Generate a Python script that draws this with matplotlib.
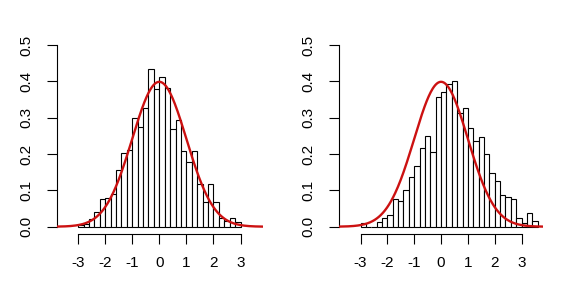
import matplotlib.pyplot as plt
import numpy as np

plt.rcParams['font.family'] = ['Arial', 'Liberation Sans', 'DejaVu Sans']

# histogram densities, bins of width 0.2 starting at -3.0
bin_width = 0.2
left_start = -3.0
left_density = [0.005, 0.008, 0.02, 0.04, 0.075, 0.08, 0.09, 0.155, 0.204, 0.21,
                0.30, 0.275, 0.327, 0.433, 0.38, 0.413, 0.383, 0.27, 0.295, 0.209,
                0.179, 0.209, 0.117, 0.067, 0.117, 0.067, 0.023, 0.017, 0.023, 0.013]
right_start = -3.0
right_density = [0.011, 0.0, 0.0, 0.013, 0.023, 0.031, 0.075, 0.072, 0.1, 0.137,
                 0.166, 0.216, 0.251, 0.205, 0.358, 0.371, 0.394, 0.4, 0.314, 0.328,
                 0.271, 0.235, 0.246, 0.201, 0.147, 0.125, 0.087, 0.081, 0.075, 0.023,
                 0.011, 0.038, 0.017]

x_ticks = [-3, -2, -1, 0, 1, 2, 3]
y_ticks = [0.0, 0.1, 0.2, 0.3, 0.4, 0.5]

fig = plt.figure(figsize=(5.63, 2.91), dpi=100)


def panel(rect, start, dens, xlim):
    ax = fig.add_axes(rect)
    edges = start + bin_width * np.arange(len(dens))
    ax.bar(edges, dens, width=bin_width, align='edge', facecolor='white',
           edgecolor='black', linewidth=0.8, zorder=2)
    # courbe de la loi normale standard (dnorm)
    xs = np.linspace(xlim[0], xlim[1], 300)
    ax.plot(xs, np.exp(-xs ** 2 / 2) / np.sqrt(2 * np.pi), color='#CC1111', lw=1.7, zorder=3)
    ax.set_xlim(xlim)
    ax.set_ylim(-0.02, 0.52)
    for s in ['top', 'right']:
        ax.spines[s].set_visible(False)
    ax.spines['left'].set_bounds(0, 0.5)
    ax.spines['bottom'].set_bounds(-3, 3)
    ax.spines['left'].set_linewidth(0.8)
    ax.spines['bottom'].set_linewidth(0.8)
    ax.set_xticks(x_ticks)
    ax.set_xticklabels([str(t) for t in x_ticks])
    ax.set_yticks(y_ticks)
    ax.set_yticklabels(['%.1f' % t for t in y_ticks], rotation=90, va='center')
    ax.tick_params(axis='both', direction='out', length=7, width=0.8, labelsize=11)
    ax.tick_params(axis='y', pad=10)
    ax.tick_params(axis='x', pad=9)
    return ax


panel([0.1012, 0.196, 0.3659, 0.674], left_start, left_density, (-3.78, 3.83))
panel([0.6027, 0.196, 0.3623, 0.674], right_start, right_density, (-3.79, 3.81))

fig.savefig('out.png', dpi=100)
